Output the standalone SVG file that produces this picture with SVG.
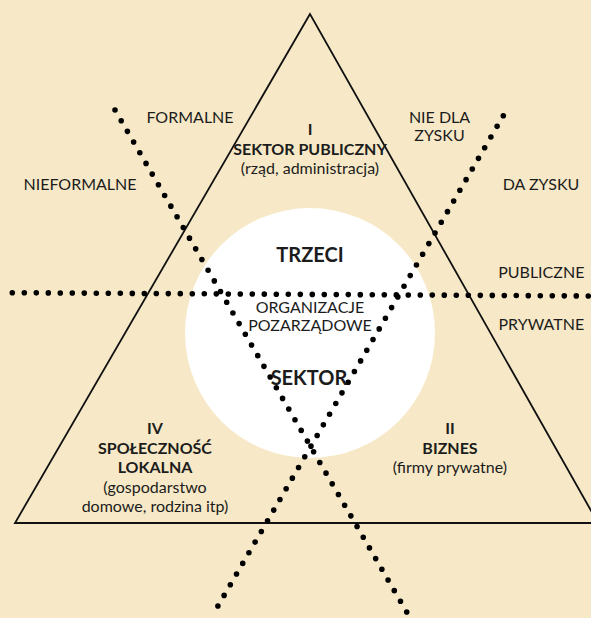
<svg xmlns="http://www.w3.org/2000/svg" width="591" height="618" viewBox="0 0 591 618">
<style>
text{font-family:Lato,"Noto Sans",sans-serif;fill:#1c1c1c;text-anchor:middle;font-size:16px}
.b{font-weight:bold}
.big{font-size:20px;font-weight:bold}
.dot{fill:none;stroke:#000;stroke-width:5.6;stroke-linecap:round}
</style>
<rect width="591" height="618" fill="#f7e9c7"/>
<g id="triangle">
<polygon points="310,14 15,523 598,523" fill="none" stroke="#111" stroke-width="1.8"/>
</g>
<g id="circle">
<circle cx="310" cy="333" r="125" fill="#fff"/>
</g>
<g id="connectors">
<line class="dot" x1="12.3" y1="292.7" x2="594" y2="296" stroke-dasharray="0 12"/>
<line class="dot" x1="115" y1="110" x2="406.7" y2="612" stroke-dasharray="0 12.353"/>
<line class="dot" x1="503.3" y1="115.7" x2="211.7" y2="616.7" stroke-dasharray="0 12.334"/>
</g>
<g id="axis-labels">
<text x="190" y="122.7">FORMALNE</text>
<text x="80" y="190">NIEFORMALNE</text>
<text x="439.5" y="122.7">NIE DLA</text>
<text x="439.5" y="141">ZYSKU</text>
<text x="541" y="190">DA ZYSKU</text>
<text x="541.3" y="277.5">PUBLICZNE</text>
<text x="541.3" y="330">PRYWATNE</text>
</g>
<g id="sector-1">
<text class="b" x="310" y="134.8">I</text>
<text class="b" x="310" y="155">SEKTOR PUBLICZNY</text>
<text x="310" y="173.5">(rząd, administracja)</text>
</g>
<g id="sector-3">
<text class="big" x="310" y="262">TRZECI</text>
<text x="310" y="313">ORGANIZACJE</text>
<text x="310" y="331">POZARZĄDOWE</text>
<text class="big" x="309" y="385">SEKTOR</text>
</g>
<g id="sector-4">
<text class="b" x="155" y="433.5">IV</text>
<text class="b" x="155" y="453.5">SPOŁECZNOŚĆ</text>
<text class="b" x="155" y="473">LOKALNA</text>
<text x="155" y="492.5">(gospodarstwo</text>
<text x="155" y="512">domowe, rodzina itp)</text>
</g>
<g id="sector-2">
<text class="b" x="450" y="433.5">II</text>
<text class="b" x="450" y="453.5">BIZNES</text>
<text x="450" y="473">(firmy prywatne)</text>
</g>
</svg>
